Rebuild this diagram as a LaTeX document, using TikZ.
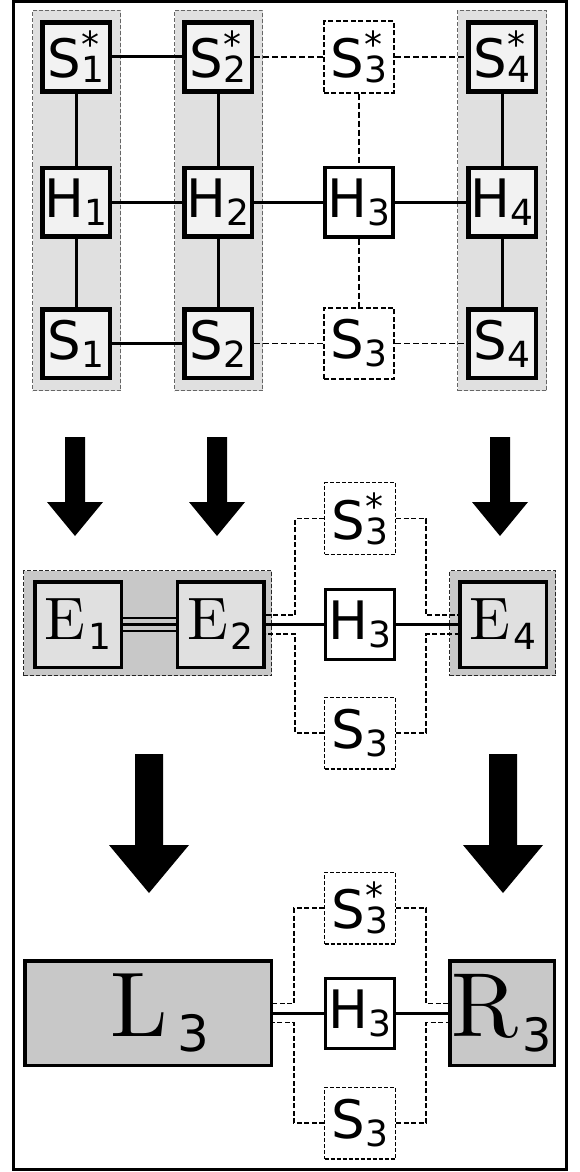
\documentclass[tikz,border=0pt]{standalone}
\usepackage{fontspec}
\setmainfont{DejaVu Sans}
\newfontfamily\lmr{lmroman10-regular.otf}
\definecolor{grpA}{HTML}{E0E0E0}
\definecolor{nodeA}{HTML}{F2F2F2}
\definecolor{grpB}{HTML}{C8C8C8}
\definecolor{nodeB}{HTML}{E0E0E0}
\newcommand\mainsz{\fontsize{53}{53}\selectfont}
\newcommand\subsz{\fontsize{36}{36}\selectfont}
\newcommand\SH[2]{{\mainsz #1}\raisebox{-8pt}{\subsz #2}}
\newcommand\SHs[2]{{\mainsz #1}\raisebox{20pt}{\rlap{\subsz *}}\raisebox{-5pt}{\subsz #2}}
\newcommand\Elab[1]{{\fontsize{60}{60}\selectfont\lmr E}\kern3pt\raisebox{-10pt}{\fontsize{36}{36}\selectfont #1}}
\tikzset{
  grpA/.style={draw=black!60, line width=1pt, dash pattern=on 4pt off 2pt, fill=grpA},
  grpB/.style={draw=black!85, line width=1pt, dash pattern=on 4pt off 2pt, fill=grpB},
  inA/.style={draw, line width=4.5pt, fill=nodeA, minimum width=67.5pt, minimum height=68.5pt, inner sep=0pt},
  hnode/.style={draw, line width=3.8pt, fill=white, minimum width=68.2pt, minimum height=69.2pt, inner sep=0pt},
  dnode/.style={draw, line width=1.8pt, dash pattern=on 5pt off 2.5pt, fill=white, minimum width=70.2pt, minimum height=71.2pt, inner sep=0pt},
  enode/.style={draw, line width=3.5pt, fill=nodeB, minimum width=86.5pt, minimum height=85.5pt, inner sep=0pt},
  hnodeM/.style={draw, line width=3pt, fill=white, minimum width=69pt, minimum height=70pt, inner sep=0pt},
  dnodeM/.style={draw, line width=1.3pt, dash pattern=on 4pt off 2pt, fill=white, minimum width=70.7pt, minimum height=71.7pt, inner sep=0pt},
  bignode/.style={draw, line width=3.5pt, fill=grpB, inner sep=0pt},
  sline/.style={line width=3pt},
  dline/.style={line width=1.8pt, dash pattern=on 6pt off 3pt},
  mline/.style={line width=3pt},
  mdline/.style={line width=1.4pt, dash pattern=on 5pt off 2.5pt},
  smallarrow/.pic={\fill (-10,0) -- (10,0) -- (10,65) -- (28,65) -- (0,99) -- (-28,65) -- (-10,65) -- cycle;},
  bigarrow/.pic={\fill (-14,0) -- (14,0) -- (14,91) -- (40,91) -- (0,139) -- (-40,91) -- (-14,91) -- cycle;}
}
\begin{document}
\begin{tikzpicture}[x=1pt,y=-1pt]
\useasboundingbox (0,0) rectangle (579,1172);
\fill[white] (0,0) rectangle (579,1172);
\draw[line width=2.5pt] (13.5,1.5) rectangle (566.5,1169.5);

% ---------- top section ----------
\node[grpA, minimum width=88pt, minimum height=380pt] (g1) at (76.5,200.5) {};
\node[grpA, minimum width=88pt, minimum height=380pt] (g2) at (218.5,200.5) {};
\node[grpA, minimum width=89pt, minimum height=380pt] (g4) at (502,200.5) {};

\node[inA] (s1s) at (76,57) {\SHs{S}{1}};
\node[inA] (h1)  at (76,202) {\SH{H}{1}};
\node[inA] (s1)  at (76,343.5) {\SH{S}{1}};
\node[inA] (s2s) at (218,57) {\SHs{S}{2}};
\node[inA] (h2)  at (218,202) {\SH{H}{2}};
\node[inA] (s2)  at (218,343.5) {\SH{S}{2}};
\node[dnode] (s3s) at (359,57) {\SHs{S}{3}};
\node[hnode] (h3)  at (359,202) {\SH{H}{3}};
\node[dnode] (s3)  at (359,343.5) {\SH{S}{3}};
\node[inA] (s4s) at (502,57) {\SHs{S}{4}};
\node[inA] (h4)  at (502,202) {\SH{H}{4}};
\node[inA] (s4)  at (502,343.5) {\SH{S}{4}};

\draw[sline] (s1s) -- (s2s);
\draw[sline] (h1) -- (h2);
\draw[sline] (h2) -- (h3);
\draw[sline] (h3) -- (h4);
\draw[sline] (s1) -- (s2);
\draw[sline] (s1s) -- (h1);
\draw[sline] (h1) -- (s1);
\draw[sline] (s2s) -- (h2);
\draw[sline] (h2) -- (s2);
\draw[sline] (s4s) -- (h4);
\draw[sline] (h4) -- (s4);
\draw[dline] (s2s) -- (s3s);
\draw[dline] (s3s) -- (s4s);
\draw[dline] (s2) -- (s3);
\draw[dline] (s3) -- (s4);
\draw[dline] (s3s) -- (h3);
\draw[dline] (h3) -- (s3);

% ---------- arrows 1 ----------
\pic at (75,437) {smallarrow};
\pic at (217,437) {smallarrow};
\pic at (500,437) {smallarrow};

% ---------- middle section ----------
\node[grpB, minimum width=248pt, minimum height=105pt] (g12) at (147.5,623) {};
\node[grpB, minimum width=106pt, minimum height=105pt] (g4m) at (502.5,623) {};
\node[enode] (e1) at (78,624.5) {\Elab{1}};
\node[enode] (e2) at (220.5,624.5) {\Elab{2}};
\node[enode] (e4) at (503,624.5) {\Elab{4}};
\node[hnodeM] (h3m) at (360,624.5) {\SH{H}{3}};
\node[dnodeM] (s3sm) at (360,518.5) {\SHs{S}{3}};
\node[dnodeM] (s3m) at (360,733) {\SH{S}{3}};

\draw[line width=2.4pt] (e1) -- (e2);
\draw[line width=2.4pt] ([yshift=6.5pt]e1.east) -- ([yshift=6.5pt]e2.west);
\draw[line width=2.4pt] ([yshift=-6.5pt]e1.east) -- ([yshift=-6.5pt]e2.west);
\draw[mline] (e2) -- (h3m);
\draw[mline] (h3m) -- (e4);
\coordinate (mlt) at (295,615);
\coordinate (mlb) at (295,634);
\coordinate (mrt) at (426,615);
\coordinate (mrb) at (426,634);
\draw[mdline] (s3sm.west) -| (mlt) -- (mlt -| e2.east);
\draw[mdline] (s3m.west) -| (mlb) -- (mlb -| e2.east);
\draw[mdline] (s3sm.east) -| (mrt) -- (mrt -| e4.west);
\draw[mdline] (s3m.east) -| (mrb) -- (mrb -| e4.west);

% ---------- arrows 2 ----------
\pic at (149,754) {bigarrow};
\pic at (503,754) {bigarrow};

% ---------- bottom section ----------
\node[bignode, minimum width=246.5pt, minimum height=104.5pt] (l3) at (148,1013)
  {\hspace*{24pt}{\fontsize{92}{92}\selectfont\lmr L}\kern10pt\raisebox{-15pt}{\fontsize{50}{50}\selectfont 3}};
\node[bignode, minimum width=104.5pt, minimum height=104.5pt] (r3) at (502,1013)
  {{\fontsize{91}{91}\selectfont\lmr R}\kern4pt\raisebox{-15pt}{\fontsize{46}{46}\selectfont 3}};
\node[hnodeM] (h3b) at (360,1013) {\SH{H}{3}};
\node[dnodeM] (s3sb) at (360,908) {\SHs{S}{3}};
\node[dnodeM] (s3b) at (360,1123) {\SH{S}{3}};

\draw[mline] (l3) -- (h3b);
\draw[mline] (h3b) -- (r3);
\coordinate (blt) at (294,1003.5);
\coordinate (blb) at (294,1022.5);
\coordinate (brt) at (426,1003.5);
\coordinate (brb) at (426,1022.5);
\draw[mdline] (s3sb.west) -| (blt) -- (blt -| l3.east);
\draw[mdline] (s3b.west) -| (blb) -- (blb -| l3.east);
\draw[mdline] (s3sb.east) -| (brt) -- (brt -| r3.west);
\draw[mdline] (s3b.east) -| (brb) -- (brb -| r3.west);
\end{tikzpicture}
\end{document}
